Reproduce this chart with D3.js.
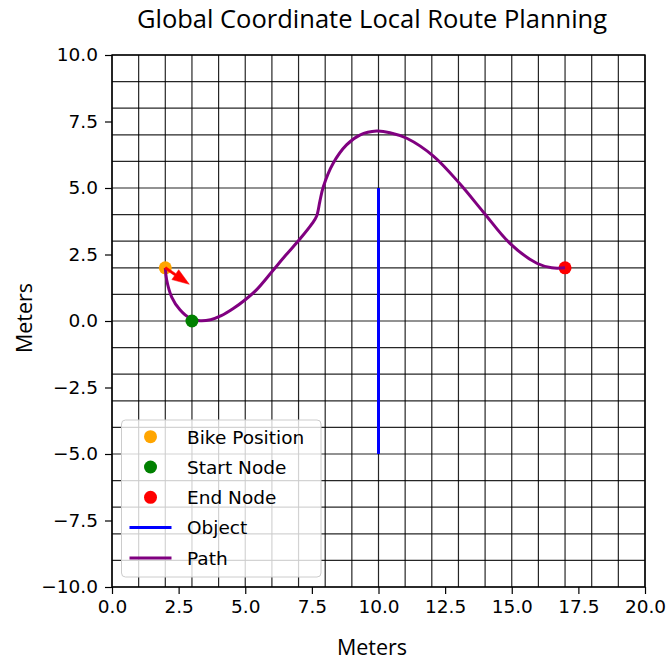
<!DOCTYPE html>
<html>
<head>
<meta charset="utf-8">
<script src="https://cdn.jsdelivr.net/npm/d3@7"></script>
<style>
  html, body { margin: 0; padding: 0; background: #fff; }
  svg { display: block; }
</style>
</head>
<body>
<svg id="chart" width="668" height="661"></svg>
<script>
// Planned route (meters, global frame)
const pathX = [2.0, 2.05, 2.24, 2.55, 2.93, 3.3, 3.7, 4.1, 4.55, 5.0, 5.43, 6.0, 6.5, 7.05, 7.5, 7.68, 7.8, 7.93, 8.3, 8.8, 9.3, 9.93, 10.43, 11.06, 12.06, 13.06, 13.93, 14.93, 15.94, 16.5, 17.0];
const pathY = [2.0, 1.55, 0.9, 0.42, 0.1, 0.01, 0.05, 0.2, 0.47, 0.8, 1.18, 1.85, 2.45, 3.08, 3.65, 3.95, 4.5, 5.05, 5.93, 6.62, 6.99, 7.14, 7.08, 6.87, 6.2, 5.15, 4.1, 2.92, 2.17, 2.0, 2.0];

// Obstacle segment
const objectX = [10, 10];
const objectY = [-5, 5];

// Key positions
const bikePos = [2, 2];
const startNode = [3, 0];
const endNode = [17, 2];
// Bike heading arrow (dx, dy in meters)
const heading = [0.9, -0.62];

const xTicks = [0, 2.5, 5, 7.5, 10, 12.5, 15, 17.5, 20];
const yTicks = [-10, -7.5, -5, -2.5, 0, 2.5, 5, 7.5, 10];
const gridSteps = d3.range(-10, 21, 1);

const legendItems = [
  { label: "Bike Position", type: "dot", color: "orange" },
  { label: "Start Node", type: "dot", color: "green" },
  { label: "End Node", type: "dot", color: "red" },
  { label: "Object", type: "line", color: "blue" },
  { label: "Path", type: "line", color: "purple" }
];

const svg = d3.select("#chart");
const L = 112, R = 645, T = 55, B = 587;
const x = d3.scaleLinear().domain([0, 20]).range([L, R]);
const y = d3.scaleLinear().domain([-10, 10]).range([B, T]);

const tickFont = "'DejaVu Sans', sans-serif";
const labelFont = "'Open Sans', sans-serif";

// Grid every meter
const grid = svg.append("g");
grid.selectAll(".gx").data(gridSteps.filter(v => v >= 0 && v <= 20)).join("line")
  .attr("x1", d => x(d)).attr("x2", d => x(d))
  .attr("y1", T).attr("y2", B)
  .attr("stroke", "#000").attr("stroke-opacity", 0.85).attr("stroke-width", 1.2);
grid.selectAll(".gy").data(gridSteps.filter(v => v >= -10 && v <= 10)).join("line")
  .attr("y1", d => y(d)).attr("y2", d => y(d))
  .attr("x1", L).attr("x2", R)
  .attr("stroke", "#000").attr("stroke-opacity", 0.85).attr("stroke-width", 1.2);

// Axes
const fmt = v => d3.format(".1f")(v).replace("-", "\u2212");
const xAxis = svg.append("g").attr("transform", `translate(0,${B})`)
  .call(d3.axisBottom(x).tickValues(xTicks).tickFormat(fmt).tickSize(7).tickPadding(6));
const yAxis = svg.append("g").attr("transform", `translate(${L},0)`)
  .call(d3.axisLeft(y).tickValues(yTicks).tickFormat(fmt).tickSize(7).tickPadding(7));
[xAxis, yAxis].forEach(a => {
  a.select(".domain").remove();
  a.selectAll(".tick line").attr("stroke", "#000").attr("stroke-width", 1.2);
  a.selectAll(".tick text").attr("font-family", tickFont).attr("font-size", 18.5).attr("fill", "#000");
});

// Frame
svg.append("rect").attr("x", L).attr("y", T).attr("width", R - L).attr("height", B - T)
  .attr("fill", "none").attr("stroke", "#000").attr("stroke-width", 1.4);

// Object
svg.append("line")
  .attr("x1", x(objectX[0])).attr("y1", y(objectY[0]))
  .attr("x2", x(objectX[1])).attr("y2", y(objectY[1]))
  .attr("stroke", "blue").attr("stroke-width", 3);

// Markers under the path
const dot = (p, c) => svg.append("circle").attr("cx", x(p[0])).attr("cy", y(p[1])).attr("r", 6.5).attr("fill", c);
dot(bikePos, "orange");
dot(endNode, "red");

// Route
const pts = pathX.map((v, i) => [v, pathY[i]]);
svg.append("path").datum(pts)
  .attr("d", d3.line().x(d => x(d[0])).y(d => y(d[1])).curve(d3.curveCatmullRom.alpha(0.5)))
  .attr("fill", "none").attr("stroke", "purple").attr("stroke-width", 3);

dot(startNode, "green");

// Heading arrow
(function () {
  const x0 = x(bikePos[0]), y0 = y(bikePos[1]);
  const x1 = x(bikePos[0] + heading[0]), y1 = y(bikePos[1] + heading[1]);
  const len = Math.hypot(x1 - x0, y1 - y0);
  const ux = (x1 - x0) / len, uy = (y1 - y0) / len;
  const px = -uy, py = ux;
  const hl = 17, hw = 6, sw = 1.2;
  const bx = x1 - ux * hl, by = y1 - uy * hl;
  const poly = [
    [x0 + px * sw, y0 + py * sw],
    [bx + px * sw, by + py * sw],
    [bx + px * hw, by + py * hw],
    [x1, y1],
    [bx - px * hw, by - py * hw],
    [bx - px * sw, by - py * sw],
    [x0 - px * sw, y0 - py * sw]
  ];
  svg.append("polygon").attr("points", poly.map(p => p.join(",")).join(" "))
    .attr("fill", "red").attr("stroke", "red").attr("stroke-width", 0.5);
})();

// Legend
const lg = svg.append("g");
lg.append("rect").attr("x", 121.5).attr("y", 420).attr("width", 199.5).attr("height", 157)
  .attr("rx", 4).attr("fill", "#fff").attr("fill-opacity", 0.8)
  .attr("stroke", "#ccc").attr("stroke-width", 1);
legendItems.forEach((d, i) => {
  const cy = 436.7 + i * 30.3;
  if (d.type === "dot") {
    lg.append("circle").attr("cx", 150.5).attr("cy", cy).attr("r", 6.5).attr("fill", d.color);
  } else {
    lg.append("line").attr("x1", 129.5).attr("x2", 171.5).attr("y1", cy).attr("y2", cy)
      .attr("stroke", d.color).attr("stroke-width", 3);
  }
  lg.append("text").attr("x", 187).attr("y", cy + 6.8)
    .attr("font-family", tickFont).attr("font-size", 18.5).attr("fill", "#000").text(d.label);
});

// Titles
svg.append("text").attr("x", 372).attr("y", 28).attr("text-anchor", "middle")
  .attr("font-family", labelFont).attr("font-size", 25.5).attr("fill", "#000")
  .text("Global Coordinate Local Route Planning");
svg.append("text").attr("x", 372).attr("y", 655).attr("text-anchor", "middle")
  .attr("font-family", labelFont).attr("font-size", 21.5).attr("fill", "#000").text("Meters");
svg.append("text").attr("transform", "translate(32,318) rotate(-90)").attr("text-anchor", "middle")
  .attr("font-family", labelFont).attr("font-size", 21.5).attr("fill", "#000").text("Meters");
</script>
</body>
</html>
